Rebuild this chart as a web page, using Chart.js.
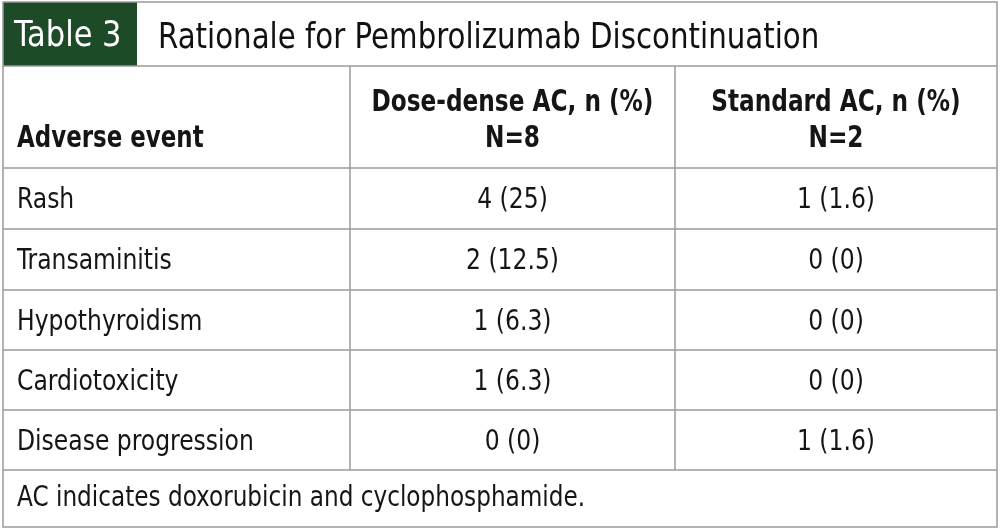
<!DOCTYPE html>
<html>
<head>
<meta charset="utf-8">
<script src="https://cdn.jsdelivr.net/npm/chart.js@4"></script>
<style>
  html, body { margin: 0; padding: 0; background: #fff; }
  #wrap { width: 1000px; height: 530px; position: relative; }
</style>
</head>
<body>
<div id="wrap"><canvas id="tbl"></canvas></div>
<script>
// ─── DATA ─────────────────────────────────────────────────────────────────────
const tableLabel  = 'Table 3';
const tableTitle  = 'Rationale for Pembrolizumab Discontinuation';
const colHeaders  = ['Adverse event', 'Dose-dense AC, n (%)', 'Standard AC, n (%)'];
const colN        = ['', 'N=8', 'N=2'];
const events      = ['Rash', 'Transaminitis', 'Hypothyroidism', 'Cardiotoxicity', 'Disease progression'];
const doseDense   = ['4 (25)', '2 (12.5)', '1 (6.3)', '1 (6.3)', '0 (0)'];
const standardAC  = ['1 (1.6)', '0 (0)', '0 (0)', '0 (0)', '1 (1.6)'];
const footnote    = 'AC indicates doxorubicin and cyclophosphamide.';

// ─── LAYOUT (pixel grid mapped through the hidden linear scales) ─────────────
const FONT   = "'Liberation Sans Narrow', 'DejaVu Sans Condensed', 'Roboto', sans-serif";
const GREEN  = '#1d4a27';
const LINE   = '#9a9a9a';
const colX   = [3, 350, 675, 997];
const rowY   = [66, 168, 229, 290, 350, 410, 470, 527];

// condensed text: squeeze the measured width a little
function text(ctx, s, x, y, k) {
  ctx.fillText(s, x, y, ctx.measureText(s).width * k);
}

const tablePlugin = {
  id: 'tablePlugin',
  afterDraw(chart) {
    const { ctx, scales: { x, y } } = chart;
    const px = v => x.getPixelForValue(v);
    const py = v => y.getPixelForValue(v);
    ctx.save();

    // title bar
    ctx.fillStyle = GREEN;
    ctx.fillRect(px(3), py(2), px(137) - px(3), py(66) - py(2));
    ctx.textBaseline = 'middle';
    ctx.fillStyle = '#fff';
    ctx.font = `35px ${FONT}`;
    text(ctx, tableLabel, px(14), py(37), 0.97);
    ctx.fillStyle = '#111';
    text(ctx, tableTitle, px(158), py(39), 0.93);

    // grid lines
    ctx.strokeStyle = LINE;
    ctx.lineWidth = 1.5;
    ctx.strokeRect(px(3), py(2), px(997) - px(3), py(527) - py(2));
    for (const r of rowY.slice(0, -1)) {
      ctx.beginPath(); ctx.moveTo(px(3), py(r)); ctx.lineTo(px(997), py(r)); ctx.stroke();
    }
    for (const c of colX.slice(1, -1)) {
      ctx.beginPath(); ctx.moveTo(px(c), py(66)); ctx.lineTo(px(c), py(470)); ctx.stroke();
    }

    // header
    ctx.fillStyle = '#151515';
    ctx.font = `bold 30px ${FONT}`;
    ctx.textAlign = 'left';
    text(ctx, colHeaders[0], px(17), py(139), 0.85);
    ctx.textAlign = 'center';
    for (let c = 1; c < 3; c++) {
      const cx = (colX[c] + colX[c + 1]) / 2;
      text(ctx, colHeaders[c], px(cx), py(103), 0.86);
      text(ctx, colN[c], px(cx), py(139), 0.86);
    }

    // body rows
    ctx.font = `29px ${FONT}`;
    events.forEach((ev, i) => {
      const cy = (rowY[i + 1] + rowY[i + 2]) / 2 + 2;
      ctx.textAlign = 'left';
      text(ctx, ev, px(17), py(cy), 0.9);
      ctx.textAlign = 'center';
      text(ctx, doseDense[i], px((colX[1] + colX[2]) / 2), py(cy), 0.9);
      text(ctx, standardAC[i], px((colX[2] + colX[3]) / 2), py(cy), 0.9);
    });

    // footnote
    ctx.textAlign = 'left';
    ctx.font = `28px ${FONT}`;
    text(ctx, footnote, px(17), py(499), 0.92);
    ctx.restore();
  },
};

new Chart(document.getElementById('tbl'), {
  type: 'scatter',
  data: { datasets: [{ data: [] }] },
  options: {
    responsive: true, maintainAspectRatio: false, animation: false,
    layout: { padding: 0 },
    plugins: { legend: { display: false }, tooltip: { enabled: false } },
    scales: {
      x: { type: 'linear', min: 0, max: 1000, display: false },
      y: { type: 'linear', min: 0, max: 530, reverse: true, display: false },
    },
  },
  plugins: [tablePlugin],
});
</script>
</body>
</html>
